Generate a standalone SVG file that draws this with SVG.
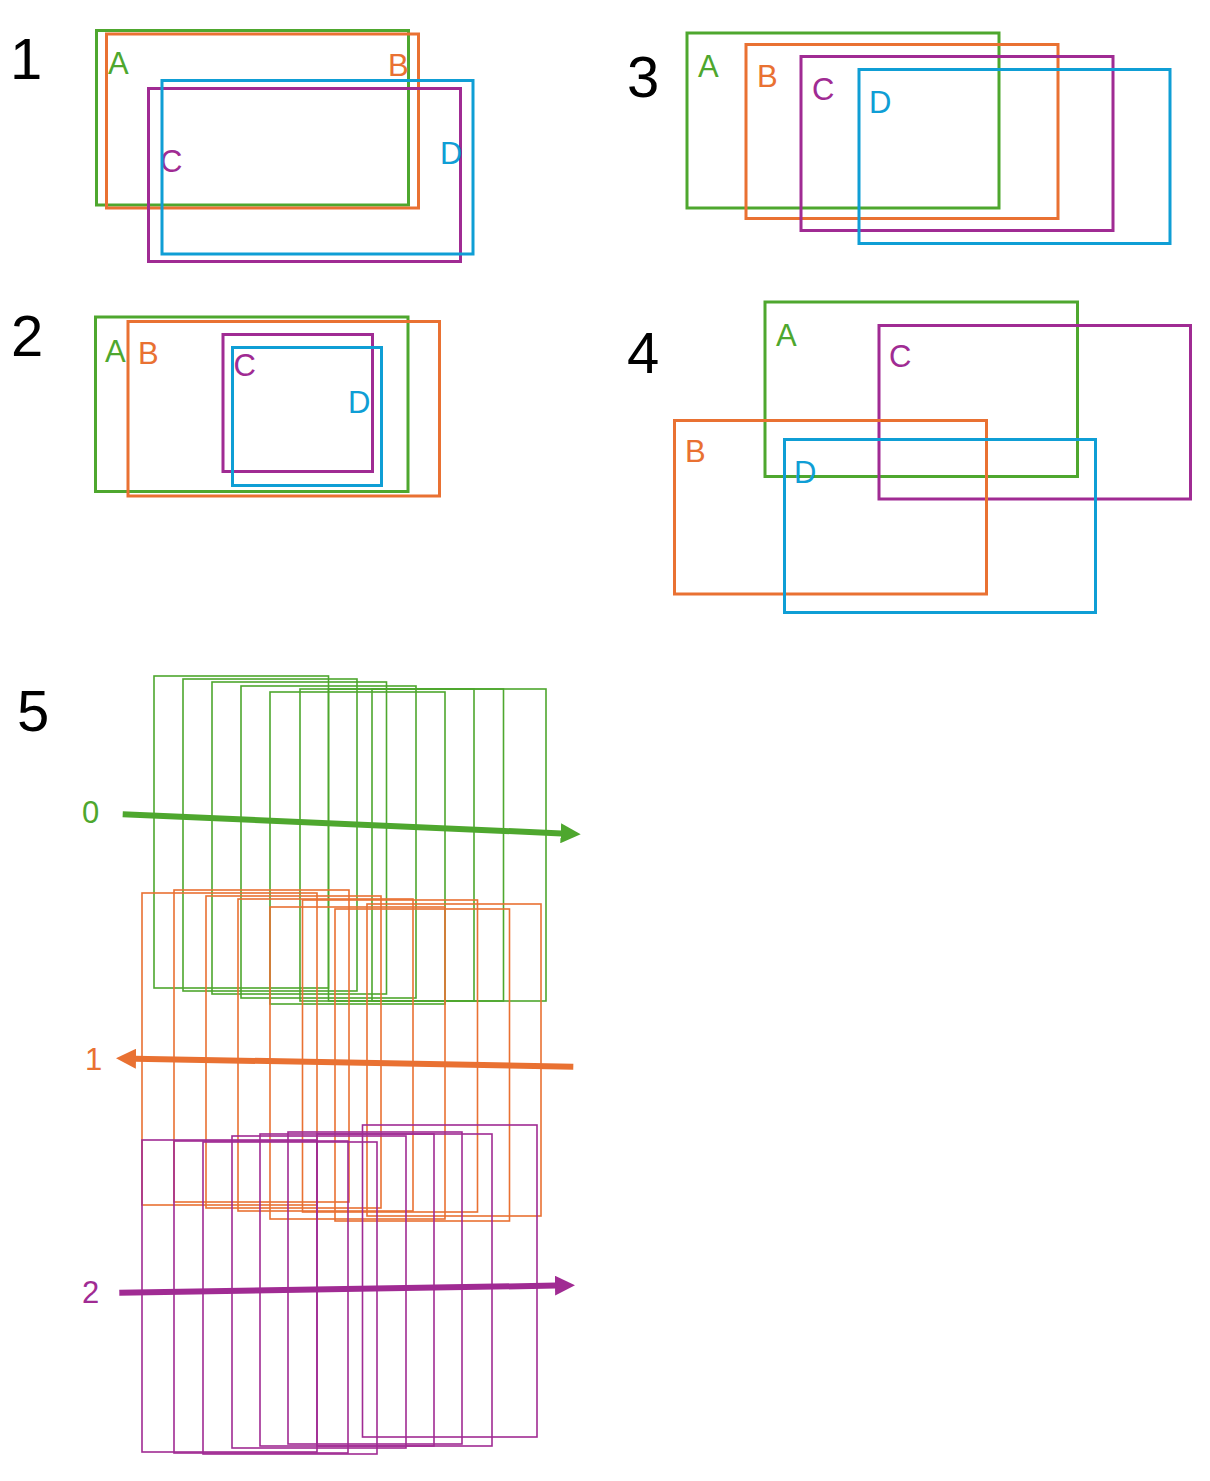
<svg xmlns="http://www.w3.org/2000/svg" width="1210" height="1481" viewBox="0 0 1210 1481">
<style>
text{font-family:"Liberation Sans",Arial,sans-serif}
.num{font-size:58px;fill:#000}
.lbl{font-size:31px}
.r{fill:none;stroke-width:3}
.t{fill:none;stroke-width:1.6}
.g{stroke:#4EA72E}.o{stroke:#E97132}.p{stroke:#A02B93}.b{stroke:#0F9ED5}
.tg{fill:#4EA72E}.to{fill:#E97132}.tp{fill:#A02B93}.tb{fill:#0F9ED5}
.arr{fill:none;stroke-width:6}
</style>
<defs>
<marker id="hg" markerWidth="20" markerHeight="20" refX="1" refY="10" orient="auto" markerUnits="userSpaceOnUse"><path d="M0,0 L20,10 L0,20 z" fill="#4EA72E"/></marker>
<marker id="ho" markerWidth="20" markerHeight="20" refX="1" refY="10" orient="auto" markerUnits="userSpaceOnUse"><path d="M0,0 L20,10 L0,20 z" fill="#E97132"/></marker>
<marker id="hp" markerWidth="20" markerHeight="20" refX="1" refY="10" orient="auto" markerUnits="userSpaceOnUse"><path d="M0,0 L20,10 L0,20 z" fill="#A02B93"/></marker>
</defs>
<rect width="1210" height="1481" fill="#fff"/>

<g id="section-numbers">
<text class="num" x="10" y="79">1</text>
<text class="num" x="11" y="356">2</text>
<text class="num" x="627" y="97">3</text>
<text class="num" x="627" y="373">4</text>
<text class="num" x="17" y="731">5</text>
</g>

<g id="s1-A"><rect class="r g" x="96.5" y="30.5" width="312" height="174.5"/><text class="lbl tg" x="108" y="74">A</text></g>
<g id="s1-B"><rect class="r o" x="106.5" y="34" width="312" height="174"/><text class="lbl to" x="388" y="76">B</text></g>
<g id="s1-C"><rect class="r p" x="148.5" y="88.5" width="312" height="173"/><text class="lbl tp" x="160" y="172">C</text></g>
<g id="s1-D"><rect class="r b" x="162" y="80.5" width="311" height="173.5"/><text class="lbl tb" x="440" y="164">D</text></g>

<g id="s2-A"><rect class="r g" x="95.5" y="317" width="312.5" height="174.5"/><text class="lbl tg" x="105" y="362">A</text></g>
<g id="s2-B"><rect class="r o" x="128" y="321.5" width="311.5" height="174.5"/><text class="lbl to" x="138" y="364">B</text></g>
<g id="s2-C"><rect class="r p" x="223" y="334.5" width="149.5" height="137"/><text class="lbl tp" x="233.5" y="376">C</text></g>
<g id="s2-D"><rect class="r b" x="232.5" y="347.5" width="149" height="138"/><text class="lbl tb" x="348" y="413">D</text></g>

<g id="s3-A"><rect class="r g" x="687" y="33" width="312" height="175"/><text class="lbl tg" x="698" y="77">A</text></g>
<g id="s3-B"><rect class="r o" x="746" y="44.5" width="312" height="174"/><text class="lbl to" x="757" y="87">B</text></g>
<g id="s3-C"><rect class="r p" x="801" y="56.5" width="312" height="174"/><text class="lbl tp" x="812" y="100">C</text></g>
<g id="s3-D"><rect class="r b" x="859" y="69.5" width="311" height="174"/><text class="lbl tb" x="869" y="113">D</text></g>

<g id="s4-A"><rect class="r g" x="765" y="302" width="312.5" height="174.5"/><text class="lbl tg" x="776" y="346">A</text></g>
<g id="s4-C"><rect class="r p" x="879" y="325.5" width="311.5" height="173.5"/><text class="lbl tp" x="889" y="367">C</text></g>
<g id="s4-B"><rect class="r o" x="674.5" y="420.5" width="312" height="173.5"/><text class="lbl to" x="685" y="462">B</text></g>
<g id="s4-D"><rect class="r b" x="784.5" y="439.5" width="311" height="173"/><text class="lbl tb" x="794" y="483">D</text></g>

<g id="s5-green">
<rect class="t g" x="154" y="676" width="174.5" height="312"/>
<rect class="t g" x="183" y="679" width="174" height="312"/>
<rect class="t g" x="212" y="682" width="174.5" height="312"/>
<rect class="t g" x="241" y="686" width="175" height="312"/>
<rect class="t g" x="270" y="692" width="175" height="312"/>
<rect class="t g" x="300" y="689" width="174" height="312"/>
<rect class="t g" x="328.5" y="689" width="175" height="312"/>
<rect class="t g" x="372" y="689" width="174" height="312"/>
</g>
<g id="s5-orange">
<rect class="t o" x="142" y="893" width="175" height="312"/>
<rect class="t o" x="174" y="890" width="175" height="312"/>
<rect class="t o" x="206" y="896" width="175" height="312"/>
<rect class="t o" x="238" y="899" width="175" height="312"/>
<rect class="t o" x="270" y="907" width="175" height="312"/>
<rect class="t o" x="302.5" y="900" width="175" height="312"/>
<rect class="t o" x="335" y="909" width="174.5" height="312"/>
<rect class="t o" x="367" y="904" width="174" height="312"/>
</g>
<g id="s5-purple">
<rect class="t p" x="142" y="1140" width="175" height="312"/>
<rect class="t p" x="174" y="1141" width="174" height="312"/>
<rect class="t p" x="203" y="1142" width="174" height="312"/>
<rect class="t p" x="232" y="1136" width="174" height="312"/>
<rect class="t p" x="260" y="1134" width="174" height="312"/>
<rect class="t p" x="288" y="1132" width="174" height="312"/>
<rect class="t p" x="317" y="1134" width="175" height="312"/>
<rect class="t p" x="362.5" y="1125" width="174.5" height="312"/>
</g>

<g id="connectors">
<line class="arr g" x1="122.7" y1="814.3" x2="561.7" y2="833.4" marker-end="url(#hg)"/>
<line class="arr o" x1="573.3" y1="1066.7" x2="135" y2="1058.7" marker-end="url(#ho)"/>
<line class="arr p" x1="119.3" y1="1292.7" x2="556" y2="1285.6" marker-end="url(#hp)"/>
</g>
<g id="track-labels">
<text class="lbl tg" x="82" y="823">0</text>
<text class="lbl to" x="85" y="1070">1</text>
<text class="lbl tp" x="82" y="1303">2</text>
</g>
</svg>
